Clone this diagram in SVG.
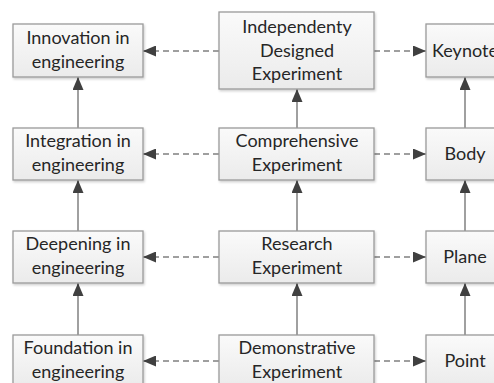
<svg xmlns="http://www.w3.org/2000/svg" width="494" height="383" viewBox="0 0 494 383">
<style>
.box{fill:url(#g);stroke:#9a9a9a;stroke-width:1.3;filter:url(#sh)}
.t{font-family:Lato,"Open Sans",sans-serif;font-size:18px;fill:#262626;text-anchor:middle}
.d{stroke:#808080;stroke-width:1.5;stroke-dasharray:6,4;fill:none}
.s{stroke:#808080;stroke-width:1.5;fill:none}
</style>
<defs>
<linearGradient id="g" x1="0" y1="0" x2="0" y2="1"><stop offset="0" stop-color="#fafafa"/><stop offset="1" stop-color="#ebebeb"/></linearGradient>
<filter id="sh" x="-10%" y="-10%" width="120%" height="130%"><feDropShadow dx="1" dy="1.5" stdDeviation="1" flood-color="#000" flood-opacity="0.2"/></filter>
<marker id="a" markerWidth="13" markerHeight="11" refX="13" refY="5.5" orient="auto" markerUnits="userSpaceOnUse"><path d="M0,0 L13,5.5 L0,11 Z" fill="#404040"/></marker>
</defs>
<rect width="494" height="383" fill="#fff"/>
<g id="connectors">
<line class="d" x1="219" y1="51" x2="143" y2="51" marker-end="url(#a)"/>
<line class="d" x1="374" y1="51" x2="426" y2="51" marker-end="url(#a)"/>
<line class="d" x1="219" y1="154" x2="143" y2="154" marker-end="url(#a)"/>
<line class="d" x1="374" y1="154" x2="426" y2="154" marker-end="url(#a)"/>
<line class="d" x1="219" y1="257" x2="143" y2="257" marker-end="url(#a)"/>
<line class="d" x1="374" y1="257" x2="426" y2="257" marker-end="url(#a)"/>
<line class="d" x1="219" y1="361" x2="143" y2="361" marker-end="url(#a)"/>
<line class="d" x1="374" y1="361" x2="426" y2="361" marker-end="url(#a)"/>
<line class="s" x1="78" y1="128" x2="78" y2="77" marker-end="url(#a)"/>
<line class="s" x1="78" y1="231" x2="78" y2="180" marker-end="url(#a)"/>
<line class="s" x1="78" y1="335" x2="78" y2="283" marker-end="url(#a)"/>
<line class="s" x1="297" y1="128" x2="297" y2="89" marker-end="url(#a)"/>
<line class="s" x1="297" y1="231" x2="297" y2="180" marker-end="url(#a)"/>
<line class="s" x1="297" y1="335" x2="297" y2="283" marker-end="url(#a)"/>
<line class="s" x1="465" y1="128" x2="465" y2="77" marker-end="url(#a)"/>
<line class="s" x1="465" y1="231" x2="465" y2="180" marker-end="url(#a)"/>
<line class="s" x1="465" y1="335" x2="465" y2="283" marker-end="url(#a)"/>
</g>
<g id="innovation"><rect class="box" x="13" y="24" width="130" height="53"/><text class="t" x="78" y="44">Innovation in</text><text class="t" x="78" y="68">engineering</text></g>
<g id="integration"><rect class="box" x="13" y="128" width="130" height="52"/><text class="t" x="78" y="147">Integration in</text><text class="t" x="78" y="171">engineering</text></g>
<g id="deepening"><rect class="box" x="13" y="231" width="130" height="52"/><text class="t" x="78" y="250">Deepening in</text><text class="t" x="78" y="274">engineering</text></g>
<g id="foundation"><rect class="box" x="13" y="335" width="130" height="52"/><text class="t" x="78" y="354">Foundation in</text><text class="t" x="78" y="378">engineering</text></g>
<g id="independent"><rect class="box" x="219" y="12" width="155" height="77"/><text class="t" x="297" y="33">Independenty</text><text class="t" x="297" y="57">Designed</text><text class="t" x="297" y="80">Experiment</text></g>
<g id="comprehensive"><rect class="box" x="219" y="128" width="155" height="52"/><text class="t" x="297" y="147">Comprehensive</text><text class="t" x="297" y="171">Experiment</text></g>
<g id="research"><rect class="box" x="219" y="231" width="155" height="52"/><text class="t" x="297" y="250">Research</text><text class="t" x="297" y="274">Experiment</text></g>
<g id="demonstrative"><rect class="box" x="219" y="335" width="155" height="52"/><text class="t" x="297" y="354">Demonstrative</text><text class="t" x="297" y="378">Experiment</text></g>
<g id="keynote"><rect class="box" x="426" y="24" width="78" height="53"/><text class="t" x="465" y="57">Keynote</text></g>
<g id="body"><rect class="box" x="426" y="128" width="78" height="52"/><text class="t" x="465" y="160">Body</text></g>
<g id="plane"><rect class="box" x="426" y="231" width="78" height="52"/><text class="t" x="465" y="263">Plane</text></g>
<g id="point"><rect class="box" x="426" y="335" width="78" height="52"/><text class="t" x="465" y="367">Point</text></g>
</svg>
